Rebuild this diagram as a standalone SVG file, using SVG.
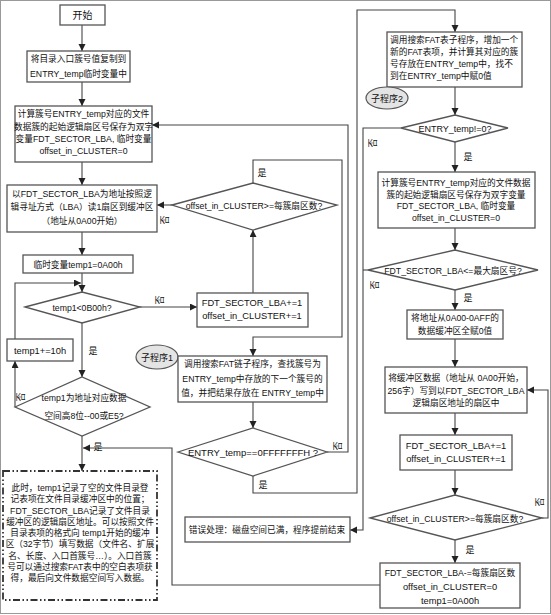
<svg xmlns="http://www.w3.org/2000/svg" width="551" height="615" viewBox="0 0 551 615">
<defs>
<marker id="ar" markerUnits="userSpaceOnUse" markerWidth="8" markerHeight="8" refX="7" refY="3.5" orient="auto">
<path d="M0,0 L7,3.5 L0,7 z" fill="#222"/>
</marker>
<style>
.b{fill:#fff;stroke:#555;stroke-width:1.3}
.e{fill:#e4e4e4;stroke:#555;stroke-width:1.2}
.d{fill:#fff;stroke:#333;stroke-width:1.8;stroke-dasharray:7 2.5 1.5 2.5 1.5 2.5}
.c{fill:none;stroke:#444;stroke-width:1.1}
.ca{fill:none;stroke:#444;stroke-width:1.1;marker-end:url(#ar)}
text{font-family:"Liberation Sans","Noto Sans CJK SC",sans-serif;font-size:8.7px;fill:#111;text-anchor:middle}
.l{text-anchor:start}
.n{font-size:9.3px}
.lb{font-size:9px}
</style>
</defs>
<rect x="0.5" y="0.5" width="550" height="613" fill="#fff" stroke="#999" stroke-width="1"/>

<g id="connectors">
<path class="ca" d="M82,25 V51"/>
<path class="ca" d="M82,82 V106"/>
<path class="ca" d="M82,162 V185"/>
<path class="ca" d="M82,232 V255"/>
<path class="ca" d="M82,273 V292"/>
<path class="ca" d="M15,339 V283 H81"/>
<path class="ca" d="M140,307 H197"/>
<path class="ca" d="M82,323 V377"/>
<path class="ca" d="M15,407 V361"/>
<path class="ca" d="M82,436 V471"/>
<path class="ca" d="M380,585 H172 V448 H83"/>
<path class="ca" d="M253,293 V230"/>
<path class="ca" d="M172,205 H157"/>
<path class="ca" d="M253,183 V160 H342 V337 H253 V356"/>
<path class="ca" d="M253,402 V428"/>
<path class="ca" d="M327,452 H348 V125 H152"/>
<path class="ca" d="M253,476 V493 H357 V10 H455 V32"/>
<path class="ca" d="M455,87 V115"/>
<path class="ca" d="M401,128 H363 V530 H350"/>
<path class="c" d="M368,270 H363"/>
<path class="ca" d="M455,142 V172"/>
<path class="ca" d="M455,228 V250"/>
<path class="ca" d="M455,290 V310"/>
<path class="ca" d="M455,339 V367"/>
<path class="ca" d="M455,413 V435"/>
<path class="ca" d="M455,470 V495"/>
<path class="ca" d="M542,518 H548 V390 H527"/>
<path class="ca" d="M455,540 V563"/>
<text class="lb" x="160" y="303" transform="rotate(-90 160 300)">否</text>
<text class="lb" x="93" y="354">是</text>
<text class="lb" x="21" y="400" transform="rotate(-90 21 397)">否</text>
<text class="lb" x="98" y="450">是</text>
<text class="lb" x="165" y="223" transform="rotate(-90 165 220)">否</text>
<text class="lb" x="262" y="176">是</text>
<text class="lb" x="338" y="449" transform="rotate(-90 338 446)">否</text>
<text class="lb" x="263" y="488">是</text>
<text class="lb" x="373" y="146" transform="rotate(-90 373 143)">否</text>
<text class="lb" x="468" y="160">是</text>
<text class="lb" x="375" y="288" transform="rotate(-90 375 285)">否</text>
<text class="lb" x="468" y="301">是</text>
<text class="lb" x="540" y="505" transform="rotate(-90 540 502)">否</text>
<text class="lb" x="470" y="553">是</text>
</g>

<g id="start"><rect class="b" x="60" y="5" width="45" height="20"/><text x="82.5" y="18.5" style="font-size:10px">开始</text></g>
<g id="copy-entry"><rect class="b" x="27" y="51" width="103" height="31"/>
<text x="78.5" y="62">将目录入口簇号值复制到</text><text x="78.5" y="77">ENTRY_temp临时变量中</text></g>
<g id="calc-lba-left"><rect class="b" x="15" y="106" width="137" height="56"/>
<text x="83.5" y="117">计算簇号ENTRY_temp对应的文件</text>
<text x="83.5" y="129.5">数据簇的起始逻辑扇区号保存为双字</text>
<text x="83.5" y="141.5">变量FDT_SECTOR_LBA, 临时变量</text>
<text x="83.5" y="153.5">offset_in_CLUSTER=0</text></g>
<g id="read-sector"><rect class="b" x="7" y="185" width="150" height="47"/>
<text x="82" y="196.5">以FDT_SECTOR_LBA为地址按照逻</text>
<text x="82" y="210">辑寻址方式（LBA）读1扇区到缓冲区</text>
<text x="82" y="223.5">（地址从0A00开始）</text></g>
<g id="temp-init"><rect class="b" x="23" y="255" width="110" height="18"/><text x="78" y="267.5">临时变量temp1=0A00h</text></g>
<g id="dec-temp"><polygon class="b" points="25,307 82,292 140,307 82,323"/><text x="82" y="310.5">temp1&lt;0B00h?</text></g>
<g id="temp-inc"><rect class="b" x="7" y="339" width="66" height="22"/><text class="n" x="40" y="353.5">temp1+=10h</text></g>
<g id="dec-empty"><polygon class="b" points="15,407 82,377 150,407 82,436"/>
<text x="84" y="400.5">temp1为地址对应数据</text><text x="84" y="418.5">空间高8位--00或E5?</text></g>
<g id="note"><rect class="d" x="3" y="471" width="154" height="129"/>
<text x="80" y="491">此时，temp1记录了空的文件目录登</text>
<text x="80" y="502.3">记表项在文件目录缓冲区中的位置；</text>
<text x="80" y="513.5">FDT_SECTOR_LBA记录了文件目录</text>
<text x="80" y="524.8">缓冲区的逻辑扇区地址。可以按照文件</text>
<text x="80" y="536">目录表项的格式向 temp1开始的缓冲</text>
<text x="80" y="547.3">区（32字节）填写数据（文件名、扩展</text>
<text x="80" y="558.5">名、长度、入口首簇号…）。入口首簇</text>
<text x="80" y="569.8">号可以通过搜索FAT表中的空白表项获</text>
<text x="80" y="581">得，最后向文件数据空间写入数据。</text></g>

<g id="dec-offset-left"><polygon class="b" points="172,205 253,183 337,205 253,230"/><text x="254" y="208.5">offset_in_CLUSTER&gt;=每簇扇区数?</text></g>
<g id="inc-left"><rect class="b" x="197" y="293" width="111" height="34"/>
<text class="n" x="252" y="306">FDT_SECTOR_LBA+=1</text><text class="n" x="252" y="318.5">offset_in_CLUSTER+=1</text></g>
<g id="sub1-tag"><ellipse class="e" cx="157" cy="357" rx="21" ry="12"/><text x="157" y="360.5" style="font-size:9px">子程序1</text></g>
<g id="sub1"><rect class="b" x="178" y="356" width="149" height="46"/>
<text x="252.5" y="367">调用搜索FAT链子程序，查找簇号为</text>
<text x="252.5" y="381.5">ENTRY_temp中存放的下一个簇号的</text>
<text x="252.5" y="395.5">值，并把结果存放在 ENTRY_temp中</text></g>
<g id="dec-eoc"><polygon class="b" points="178,452 253,428 327,452 253,476"/><text x="253" y="455.5" style="font-size:9.5px">ENTRY_temp==0FFFFFFFH ?</text></g>
<g id="error"><rect class="b" x="185" y="517" width="165" height="25"/><text x="267" y="533">错误处理：磁盘空间已满，程序提前结束</text></g>

<g id="sub2"><rect class="b" x="387" y="32" width="135" height="55"/>
<text class="l" x="390" y="42.5">调用搜索FAT表子程序，增加一个</text>
<text class="l" x="390" y="54.5">新的FAT表项，并计算其对应的簇</text>
<text class="l" x="390" y="66.5">号存放在ENTRY_temp中，找不</text>
<text class="l" x="390" y="78.5">到在ENTRY_temp中赋0值</text></g>
<g id="sub2-tag"><ellipse class="e" cx="387" cy="98" rx="21" ry="11"/><text x="387" y="101.5" style="font-size:9px">子程序2</text></g>
<g id="dec-zero"><polygon class="b" points="401,128 455,115 508,128 455,142"/><text x="455" y="131.5" style="font-size:9px">ENTRY_temp!=0?</text></g>
<g id="calc-lba-right"><rect class="b" x="378" y="172" width="157" height="56"/>
<text x="456" y="186">计算簇号ENTRY_temp对应的文件数据</text>
<text x="456" y="197.5">簇的起始逻辑扇区号保存为双字变量</text>
<text x="456" y="209">FDT_SECTOR_LBA, 临时变量</text>
<text x="456" y="220.5">offset_in_CLUSTER=0</text></g>
<g id="dec-max"><polygon class="b" points="368,270 455,250 538,270 455,290"/><text x="453" y="273.5">FDT_SECTOR_LBA&lt;=最大扇区号?</text></g>
<g id="clear-buf"><rect class="b" x="407" y="310" width="96" height="29"/>
<text x="455" y="321">将地址从0A00-0AFF的</text><text x="455" y="334">数据缓冲区全赋0值</text></g>
<g id="write-sector"><rect class="b" x="385" y="367" width="142" height="46"/>
<text x="456" y="380.5">将缓冲区数据（地址从 0A00开始，</text>
<text x="456" y="393.5">256字）写到以FDT_SECTOR_LBA</text>
<text x="456" y="406">逻辑扇区地址的扇区中</text></g>
<g id="inc-right"><rect class="b" x="400" y="435" width="112" height="35"/>
<text class="n" x="456" y="448.5">FDT_SECTOR_LBA+=1</text><text class="n" x="456" y="461.5">offset_in_CLUSTER+=1</text></g>
<g id="dec-offset-right"><polygon class="b" points="370,518 455,495 542,518 455,540"/><text x="455" y="521.5">offset_in_CLUSTER&gt;=每簇扇区数?</text></g>
<g id="reset"><rect class="b" x="380" y="563" width="140" height="45"/>
<text x="450" y="575.5">FDT_SECTOR_LBA-=每簇扇区数</text>
<text class="n" x="450" y="590">offset_in_CLUSTER=0</text>
<text class="n" x="450" y="604">temp1=0A00h</text></g>
</svg>
